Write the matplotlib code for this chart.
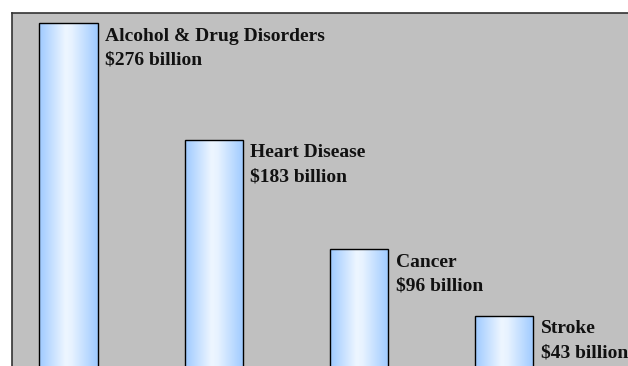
import numpy as np
import matplotlib.pyplot as plt
from matplotlib.colors import LinearSegmentedColormap

# Annual cost of each condition, in billions of dollars
conditions = ['Alcohol & Drug Disorders', 'Heart Disease', 'Cancer', 'Stroke']
costs = [276, 183, 96, 43]

fig = plt.figure(figsize=(6.28, 3.66), dpi=100)
fig.patch.set_facecolor('white')

# Plot area starts a little inside the top-left corner and runs off the other edges
ax = fig.add_axes([12 / 628, 0, 1 - 12 / 628, 353 / 366])
ax.set_facecolor('#c0c0c0')

x = np.arange(len(costs))
width = 0.4

# Horizontal shading across each bar: blue at the sides, almost white in the middle
shade = LinearSegmentedColormap.from_list(
    'shade', [(0.0, '#9ecaff'), (0.45, '#eef6ff'), (0.55, '#e8f3ff'), (1.0, '#9ecaff')])
grad = np.linspace(0, 1, 256).reshape(1, -1)

bars = ax.bar(x, costs, width, facecolor='none', edgecolor='black', linewidth=1, zorder=3)
for bar in bars:
    x0, y0 = bar.get_x(), bar.get_y()
    w, h = bar.get_width(), bar.get_height()
    img = ax.imshow(grad, cmap=shade, aspect='auto', extent=(x0, x0 + w, y0, y0 + h),
                    zorder=2, interpolation='bicubic')
    img.set_clip_path(bar)

ax.set_xlim(-0.389, 3.851)
ax.set_ylim(3.2, 284)

for xi, name, cost in zip(x, conditions, costs):
    ax.annotate(f'{name}\n${cost} billion', xy=(xi + width / 2, cost),
                xytext=(5.5, -3.2), textcoords='offset points', ha='left', va='top',
                fontsize=14, fontweight='bold', family='Liberation Serif',
                linespacing=1.55, color='#111111', zorder=4,
                annotation_clip=False)

ax.set_xticks([])
ax.set_yticks([])
for side in ('right', 'bottom'):
    ax.spines[side].set_visible(False)
for side in ('top', 'left'):
    ax.spines[side].set_color('#333333')
    ax.spines[side].set_linewidth(1.2)

fig.savefig('out.png', dpi=100)
